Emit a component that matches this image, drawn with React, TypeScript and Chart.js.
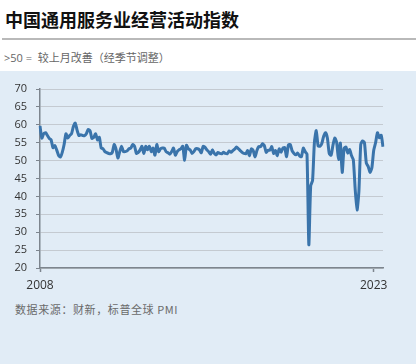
import React, { useEffect, useRef } from "react";
import { Chart, registerables } from "chart.js";

Chart.register(...registerables);

const years = [2008, 2009, 2010, 2011, 2012, 2013, 2014, 2015, 2016, 2017, 2018, 2019, 2020, 2021, 2022, 2023];
const tickYears = ["2008", "2023"];

const pmi2008 = [59.7, 56.3, 57.5, 57.8, 57.0, 56.2, 55.8, 53.6, 54.2, 53.0, 51.5, 51.0];
const pmi2009 = [52.3, 54.5, 57.5, 56.3, 57.0, 57.5, 59.5, 60.5, 58.5, 57.0, 57.2, 57.0];
const pmi2010 = [57.0, 57.5, 58.7, 58.3, 56.2, 56.5, 57.5, 55.8, 56.5, 53.5, 53.3, 52.5];
const pmi2011 = [52.2, 52.0, 51.9, 52.3, 54.5, 53.2, 50.7, 52.5, 54.0, 52.5, 52.5, 52.7];
const pmi2012 = [53.3, 53.5, 54.5, 54.0, 52.0, 52.3, 53.0, 54.0, 52.0, 54.0, 53.0, 54.0];
const pmi2013 = [52.5, 53.5, 51.5, 54.5, 52.5, 53.3, 53.5, 53.5, 52.5, 52.2, 51.8, 52.5];
const pmi2014 = [53.5, 51.5, 52.5, 53.0, 53.3, 54.0, 50.1, 54.3, 53.3, 53.0, 52.0, 52.5];
const pmi2015 = [53.3, 53.3, 53.0, 52.2, 54.0, 53.7, 53.0, 52.5, 51.8, 53.0, 52.0, 51.6];
const pmi2016 = [52.3, 52.0, 51.9, 52.3, 52.0, 51.9, 52.7, 52.3, 52.8, 53.2, 53.8, 53.3];
const pmi2017 = [52.8, 52.3, 52.0, 51.9, 52.8, 51.4, 53.3, 52.8, 51.0, 52.8, 53.9, 53.9];
const pmi2018 = [54.7, 54.2, 52.3, 52.9, 52.9, 53.9, 52.0, 52.8, 51.4, 53.3, 52.3, 53.5];
const pmi2019 = [53.6, 51.1, 54.4, 54.5, 52.7, 52.0, 51.6, 52.1, 51.3, 51.1, 53.5, 52.5];
const pmi2020 = [51.8, 26.5, 43.0, 44.4, 55.0, 58.4, 54.1, 54.0, 54.8, 56.8, 57.8, 56.3];
const pmi2021 = [52.0, 51.5, 54.3, 56.3, 55.1, 50.3, 54.9, 46.7, 53.4, 53.8, 52.1, 53.1];
const pmi2022 = [51.4, 50.2, 42.0, 36.2, 41.4, 54.5, 55.5, 55.0, 49.3, 48.4, 46.7, 48.0];
const pmi2023 = [52.9, 55.0, 57.8, 56.4, 57.1, 53.9];

const byYear = [pmi2008, pmi2009, pmi2010, pmi2011, pmi2012, pmi2013, pmi2014, pmi2015, pmi2016, pmi2017, pmi2018, pmi2019, pmi2020, pmi2021, pmi2022, pmi2023];

const labels: string[] = [];
const values: number[] = [];
byYear.forEach((arr, yi) => {
  arr.forEach((v, mi) => {
    labels.push(`${years[yi]}-${String(mi + 1).padStart(2, "0")}`);
    values.push(v);
  });
});
const tickIdx = tickYears.map((y) => labels.indexOf(`${y}-01`));

const AXIS = "#7d858e";

export default function App() {
  const ref = useRef<HTMLCanvasElement | null>(null);
  useEffect(() => {
    if (!ref.current) return;
    const chart = new Chart(ref.current, {
      type: "line",
      data: {
        labels,
        datasets: [
          {
            data: values,
            borderColor: "#3a74ab",
            borderWidth: 3,
            pointRadius: 0,
            tension: 0.2,
            fill: false,
          },
        ],
      },
      options: {
        animation: false,
        responsive: false,
        maintainAspectRatio: false,
        layout: { padding: { top: 18, right: 33, left: 0, bottom: 0 } },
        plugins: { legend: { display: false }, tooltip: { enabled: false } },
        scales: {
          x: {
            type: "category",
            offset: false,
            grid: {
              display: true,
              drawOnChartArea: false,
              drawTicks: true,
              tickLength: 4,
              tickColor: AXIS,
              tickWidth: 1.5,
            },
            border: { display: true, color: AXIS, width: 1.5 },
            ticks: {
              autoSkip: false,
              maxRotation: 0,
              padding: 6,
              color: "#333",
              font: { family: "Open Sans", size: 12 },
              callback: function (this: any, v: any) {
                return String(this.getLabelForValue(v)).slice(0, 4);
              },
            },
            afterBuildTicks: (s: any) => {
              s.ticks = tickIdx.map((v) => ({ value: v }));
            },
            afterFit: (s: any) => {
              s.height = 33;
            },
          },
          y: {
            min: 20,
            max: 70,
            ticks: {
              stepSize: 5,
              padding: 9,
              color: "#333",
              font: { family: "Open Sans", size: 11 },
            },
            grid: { color: "#c4cad1", lineWidth: 1, tickLength: 4, tickColor: AXIS },
            border: { color: AXIS, width: 1.5 },
            afterFit: (s: any) => {
              s.width = 40;
            },
          },
        },
      },
    });
    return () => chart.destroy();
  }, []);

  return (
    <div style={{ position: "fixed", left: 0, top: 0, width: 416, height: 364, background: "#fff", overflow: "hidden" }}>
      <div
        style={{
          position: "absolute",
          left: 5,
          top: 10,
          fontFamily: "'Noto Sans CJK SC', sans-serif",
          fontWeight: 700,
          fontSize: 18,
          lineHeight: "18px",
          color: "#111",
          whiteSpace: "nowrap",
        }}
      >
        中国通用服务业经营活动指数
      </div>
      <div style={{ position: "absolute", left: 2, right: 0, top: 38, height: 2, background: "#b9b9b9" }} />
      <div
        style={{
          position: "absolute",
          left: 4,
          top: 51,
          fontFamily: "'Open Sans', 'Noto Sans CJK SC', sans-serif",
          fontSize: 11,
          lineHeight: "14px",
          color: "#666",
          whiteSpace: "pre",
        }}
      >
        {">50 =  较上月改善（经季节调整）"}
      </div>
      <div style={{ position: "absolute", left: 0, top: 71, width: 416, height: 293, background: "#e1ecf6" }}>
        <canvas ref={ref} width={416} height={230} style={{ position: "absolute", left: 0, top: 0, width: 416, height: 230 }} />
        <div
          style={{
            position: "absolute",
            left: 15,
            top: 231,
            fontFamily: "'Noto Sans CJK SC', sans-serif",
            fontSize: 11,
            lineHeight: "14px",
            letterSpacing: "0.6px",
            color: "#6a6a6a",
            whiteSpace: "nowrap",
          }}
        >
          数据来源：财新，标普全球 PMI
        </div>
      </div>
    </div>
  );
}
